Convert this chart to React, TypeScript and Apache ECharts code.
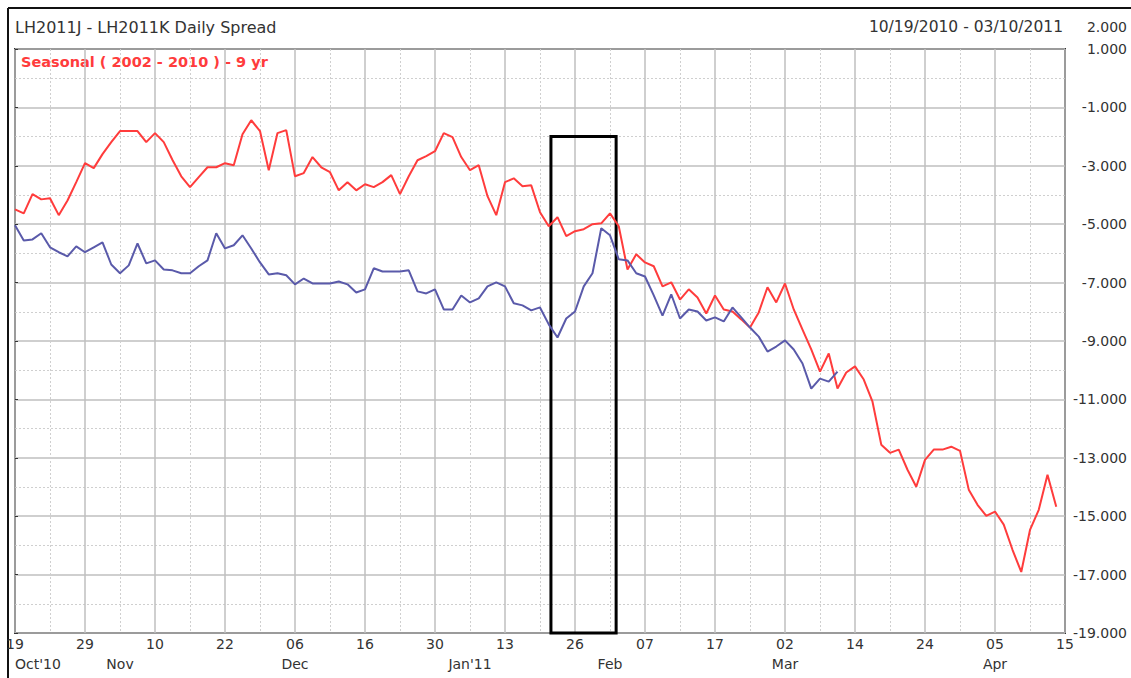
import React, { useEffect, useRef } from "react";
import * as echarts from "echarts";

// Tick labels (one every 8 trading days, index 0 = 19 Oct 2010)
const dayLabels = ["19", "29", "10", "22", "06", "16", "30", "13", "26", "07", "17", "02", "14", "24", "05", "15"];
const monthLabels = ["Oct'10", "Nov", "Dec", "Jan'11", "Feb", "Mar", "Apr"];
const monthTicks = [0, 12, 32, 52, 68, 88, 112];

// Seasonal (2002-2010) 9 yr average, by trading-day index
const seasonal = [
  -4.49, -4.63, -3.97, -4.15, -4.11, -4.69, -4.19, -3.56, -2.91, -3.08,
  -2.60, -2.19, -1.81, -1.81, -1.81, -2.19, -1.88, -2.19, -2.80, -3.36,
  -3.73, -3.39, -3.05, -3.05, -2.91, -2.98, -1.92, -1.44, -1.81, -3.15,
  -1.88, -1.78, -3.36, -3.25, -2.70, -3.05, -3.22, -3.84, -3.56, -3.84,
  -3.63, -3.73, -3.56, -3.32, -3.97, -3.36, -2.81, -2.67, -2.50, -1.88,
  -2.02, -2.70, -3.15, -2.98, -4.04, -4.69, -3.56, -3.43, -3.70, -3.67,
  -4.59, -5.07, -4.76, -5.41, -5.24, -5.17, -5.00, -4.97, -4.63, -5.07,
  -6.55, -6.03, -6.31, -6.44, -7.13, -6.99, -7.58, -7.23, -7.51, -8.06,
  -7.44, -7.92, -7.99, -8.26, -8.54, -8.02, -7.16, -7.68, -7.03, -7.92,
  -8.61, -9.29, -10.05, -9.43, -10.63, -10.08, -9.87, -10.32, -11.08, -12.55,
  -12.83, -12.72, -13.41, -13.99, -13.07, -12.72, -12.72, -12.62, -12.76, -14.09,
  -14.61, -14.99, -14.84, -15.29, -16.15, -16.91, -15.47, -14.78, -13.58, -14.68,
];

// LH2011J - LH2011K daily spread, 10/19/2010 - 03/10/2011
const actual = [
  -5.04, -5.56, -5.52, -5.31, -5.79, -5.96, -6.10, -5.76, -5.96, -5.79,
  -5.62, -6.38, -6.68, -6.41, -5.66, -6.34, -6.24, -6.55, -6.58, -6.68,
  -6.68, -6.44, -6.24, -5.31, -5.83, -5.72, -5.38, -5.83, -6.31, -6.72,
  -6.68, -6.75, -7.06, -6.86, -7.03, -7.03, -7.03, -6.96, -7.06, -7.34,
  -7.23, -6.51, -6.62, -6.62, -6.62, -6.58, -7.30, -7.37, -7.23, -7.92,
  -7.92, -7.44, -7.68, -7.54, -7.13, -6.99, -7.13, -7.71, -7.78, -7.95,
  -7.85, -8.43, -8.88, -8.23, -7.99, -7.13, -6.68, -5.14, -5.38, -6.20,
  -6.24, -6.68, -6.79, -7.44, -8.13, -7.40, -8.23, -7.92, -7.99, -8.30,
  -8.19, -8.33, -7.85, -8.19, -8.54, -8.85, -9.36, -9.19, -8.98, -9.29,
  -9.77, -10.63, -10.29, -10.39, -10.05,
];

// Highlighted window (trading-day index range, value range)
const boxX = [61.25, 68.7];
const boxY = [-2, -19];

const FONT = "DejaVu Sans";
const TXT = "#333333";

export default function App() {
  const ref = useRef<HTMLDivElement>(null);
  useEffect(() => {
    if (!ref.current) return;
    const chart = echarts.init(ref.current, null, { renderer: "svg" });
    const minor = {
      show: true,
      lineStyle: { color: "#cfcfcf", width: 1, type: [2, 2] as any },
    };
    chart.setOption({
      animation: false,
      backgroundColor: "#ffffff",
      grid: {
        left: 15,
        right: 66,
        top: 49,
        bottom: 45,
        show: true,
        borderColor: "#333333",
        borderWidth: 2,
        backgroundColor: "transparent",
      },
      xAxis: [
        {
          type: "value",
          min: 0,
          max: 120,
          interval: 8,
          position: "bottom",
          axisLine: { show: false },
          axisTick: { show: false },
          axisLabel: {
            margin: 4,
            color: TXT,
            fontFamily: FONT,
            fontSize: 14,
            formatter: (v: number) => dayLabels[Math.round(v / 8)] ?? "",
          },
          splitLine: { show: true, lineStyle: { color: "#bfbfbf", width: 1.5 } },
          minorTick: { show: false, splitNumber: 2 },
          minorSplitLine: minor,
        },
        {
          type: "value",
          min: 0,
          max: 120,
          position: "bottom",
          offset: 20,
          axisLine: { show: false },
          axisTick: { show: false },
          splitLine: { show: false },
          axisLabel: {
            customValues: monthTicks,
            alignMinLabel: "left",
            margin: 4,
            color: TXT,
            fontFamily: FONT,
            fontSize: 14,
            formatter: (v: number) => {
              const k = monthTicks.indexOf(v);
              return k >= 0 ? monthLabels[k] : "";
            },
          },
        },
      ],
      yAxis: {
        type: "value",
        position: "right",
        min: -19,
        max: 1,
        interval: 2,
        axisLine: { show: false },
        axisTick: { show: true, length: 3, lineStyle: { color: "#333" } },
        axisLabel: {
          align: "right",
          margin: 62,
          color: TXT,
          fontFamily: FONT,
          fontSize: 14,
          formatter: (v: number) => v.toFixed(3),
        },
        splitLine: { show: true, lineStyle: { color: "#bfbfbf", width: 1.5 } },
        minorTick: { show: false, splitNumber: 2 },
        minorSplitLine: minor,
      },
      graphic: [
        {
          type: "line",
          shape: { x1: 8, y1: 8, x2: 1131, y2: 8 },
          style: { stroke: "#111", lineWidth: 2 },
        },
        {
          type: "line",
          shape: { x1: 8, y1: 8, x2: 8, y2: 678 },
          style: { stroke: "#111", lineWidth: 2 },
        },
        {
          type: "text",
          x: 15,
          y: 27,
          style: {
            text: "LH2011J - LH2011K Daily Spread",
            fill: TXT,
            font: `16px "${FONT}"`,
            textAlign: "left",
            textVerticalAlign: "middle",
          },
        },
        {
          type: "text",
          x: 1063,
          y: 27,
          style: {
            text: "10/19/2010 - 03/10/2011",
            fill: TXT,
            font: `15.5px "${FONT}"`,
            textAlign: "right",
            textVerticalAlign: "middle",
          },
        },
        {
          type: "text",
          x: 1127,
          y: 27,
          style: {
            text: "2.000",
            fill: TXT,
            font: `14px "${FONT}"`,
            textAlign: "right",
            textVerticalAlign: "middle",
          },
        },
        {
          type: "text",
          x: 21,
          y: 62,
          style: {
            text: "Seasonal ( 2002 - 2010 ) - 9 yr",
            fill: "#ff3c3c",
            font: `bold 14.5px "${FONT}"`,
            textAlign: "left",
            textVerticalAlign: "middle",
          },
        },
      ],
      series: [
        {
          name: "Seasonal",
          type: "line",
          data: seasonal.map((v, i) => [i, v]),
          showSymbol: false,
          lineStyle: { color: "#ff3c3c", width: 2 },
          itemStyle: { color: "#ff3c3c" },
          z: 3,
        },
        {
          name: "Spread",
          type: "line",
          data: actual.map((v, i) => [i, v]),
          showSymbol: false,
          lineStyle: { color: "#5a5aaa", width: 2 },
          itemStyle: { color: "#5a5aaa" },
          z: 4,
          markArea: {
            silent: true,
            itemStyle: { color: "rgba(0,0,0,0)", borderColor: "#000", borderWidth: 3 },
            data: [[{ xAxis: boxX[0], yAxis: boxY[0] }, { xAxis: boxX[1], yAxis: boxY[1] }]],
          },
        },
      ],
    });
    return () => chart.dispose();
  }, []);
  return (
    <div
      ref={ref}
      style={{ position: "absolute", left: 0, top: 0, width: 1131, height: 678, background: "#fff" }}
    />
  );
}
